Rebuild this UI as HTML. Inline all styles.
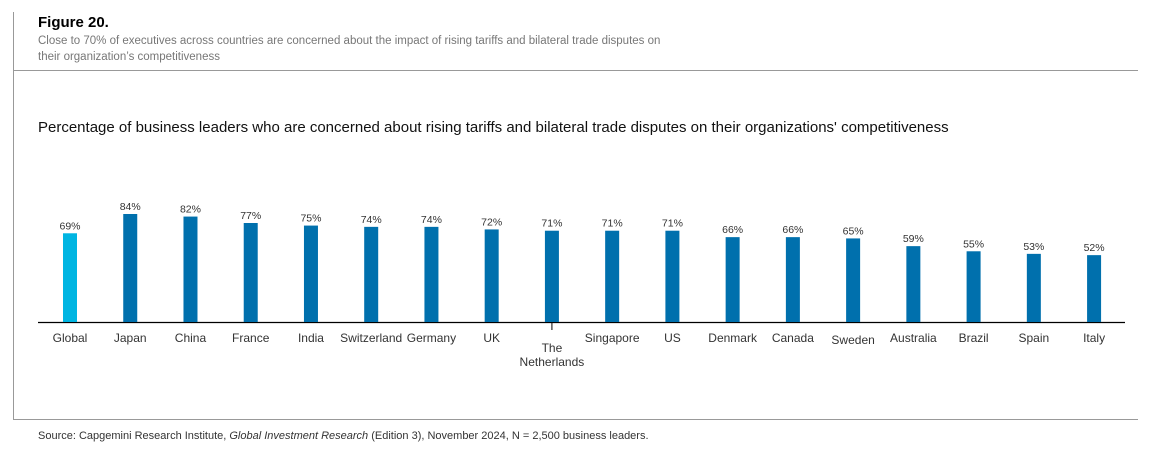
<!DOCTYPE html>
<html><head><meta charset="utf-8"><style>
body{margin:0;width:1161px;height:466px;background:#fff;font-family:"Liberation Sans",sans-serif;position:relative;overflow:hidden}
.abs{position:absolute}
</style></head><body>
<div class="abs" style="left:13px;top:12px;width:1px;height:408px;background:#999"></div>
<div class="abs" style="left:13px;top:70px;width:1125px;height:1px;background:#999"></div>
<div class="abs" style="left:13px;top:419px;width:1125px;height:1px;background:#999"></div>
<div class="abs" style="left:38px;top:14px;font-size:15px;font-weight:bold;color:#000">Figure 20.</div>
<div class="abs" style="left:38px;top:33px;font-size:11.5px;line-height:16px;color:#777;width:700px">Close to 70% of executives across countries are concerned about the impact of rising tariffs and bilateral trade disputes on<br>their organization’s competitiveness</div>
<div class="abs" style="left:38px;top:119px;font-size:15px;color:#111;white-space:nowrap">Percentage of business leaders who are concerned about rising tariffs and bilateral trade disputes on their organizations' competitiveness</div>
<div class="abs" style="left:38px;top:430px;font-size:11px;color:#333">Source: Capgemini Research Institute, <i>Global Investment Research</i> (Edition 3), November 2024, N = 2,500 business leaders.</div>
<svg class="abs" style="left:0;top:0" width="1161" height="466" id="chart"></svg>
<script>
const categories=["Global","Japan","China","France","India","Switzerland","Germany","UK","The\nNetherlands","Singapore","US","Denmark","Canada","Sweden","Australia","Brazil","Spain","Italy"];
const values=[69,84,82,77,75,74,74,72,71,71,71,66,66,65,59,55,53,52];
const valueLabels=values.map(v=>v+"%");
const svg=document.getElementById('chart');
const NS="http://www.w3.org/2000/svg";
const base=322, scale=108/84, x0=70, step=60.24;
const x=i=>x0+i*step, y=v=>base-v*scale;
const ax=document.createElementNS(NS,'line');


ax.setAttribute('x1',38);ax.setAttribute('x2',1125);ax.setAttribute('y1',base+0.5);ax.setAttribute('y2',base+0.5);ax.setAttribute('stroke','#000');ax.setAttribute('stroke-width',1.3);
svg.appendChild(ax);
categories.forEach((c,i)=>{
 const r=document.createElementNS(NS,'rect');
 
 
 r.setAttribute('x',x(i)-7);r.setAttribute('width',14);r.setAttribute('y',y(values[i]));r.setAttribute('height',values[i]*scale);
 r.setAttribute('fill',i===0?'#00b5e2':'#0070ad');
 svg.appendChild(r);
 const t=document.createElementNS(NS,'text');
 
 
 t.setAttribute('x',x(i));t.setAttribute('y',y(values[i])-4);t.setAttribute('text-anchor','middle');t.setAttribute('font-size','10.5');t.setAttribute('fill','#333');
 t.textContent=valueLabels[i];svg.appendChild(t);
 const lines=c.split("\n");
 if(lines.length>1){
  const tk=document.createElementNS(NS,'line');
  
  
  tk.setAttribute('x1',x(i));tk.setAttribute('x2',x(i));tk.setAttribute('y1',base);tk.setAttribute('y2',base+8);tk.setAttribute('stroke','#000');
  svg.appendChild(tk);
 }
 lines.forEach((l,j)=>{
  const lt=document.createElementNS(NS,'text');
  
  
  lt.setAttribute('x',x(i));lt.setAttribute('y',(lines.length>1?352:342)+j*14+(c==="Sweden"?2:0));lt.setAttribute('text-anchor','middle');lt.setAttribute('font-size','12');lt.setAttribute('fill','#333');
  lt.textContent=l;svg.appendChild(lt);
 });
});
</script>
</body></html>
